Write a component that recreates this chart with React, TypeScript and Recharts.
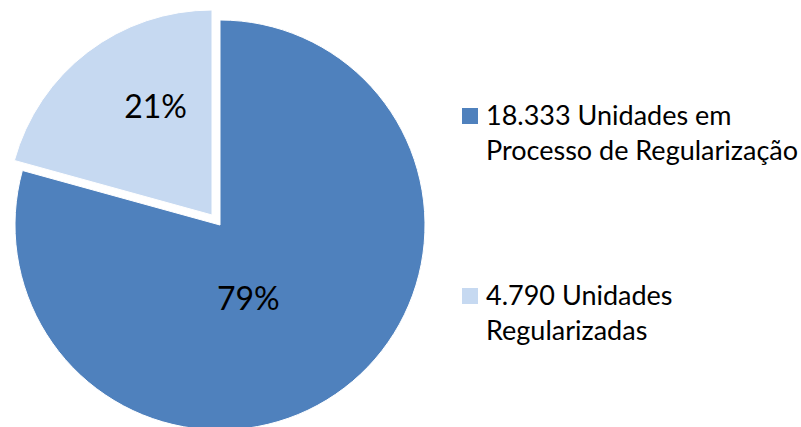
import React from "react";
import { PieChart, Pie, Cell, Legend } from "recharts";

const categories = ["Unidades em Processo de Regularização", "Unidades Regularizadas"];
const values = [18333, 4790];
const legendLines = [
  ["18.333 Unidades em", "Processo de Regularização"],
  ["4.790 Unidades", "Regularizadas"],
];
const colors = ["#4F81BD", "#C6D9F1"];

const data = categories.map((name, i) => ({ name, value: values[i] }));

const FONT = "Lato, 'Open Sans', sans-serif";
const RAD = Math.PI / 180;

const makeLabel = (which: number) => (props: any) => {
  const { cx, cy, midAngle, outerRadius, percent, index } = props;
  if (index !== which) return null;
  const k = index === 0 ? 0.38 : 0.6;
  const adj = index === 0 ? -16 : -10;
  const a = (midAngle + adj) * RAD;
  const x = cx + Math.cos(a) * outerRadius * k;
  const y = cy - Math.sin(a) * outerRadius * k;
  return (
    <text x={x} y={y} textAnchor="middle" dominantBaseline="central" fontFamily={FONT} fontSize={32} fill="#000">
      {Math.round(percent * 100)}%
    </text>
  );
};

const LegendContent = () => (
  <svg width={350} height={280} style={{ display: "block" }}>
    {legendLines.map((lines, i) => {
      const top = i === 0 ? 18 : 198;
      return (
        <g key={i}>
          <rect x={12} y={top} width={16} height={16} fill={colors[i]} />
          <text x={36} y={top + 17} fontFamily={FONT} fontSize={27} fill="#000">
            {lines[0]}
          </text>
          <text x={36} y={top + 52} fontFamily={FONT} fontSize={27} fill="#000">
            {lines[1]}
          </text>
        </g>
      );
    })}
  </svg>
);

export default function App() {
  return (
    <div style={{ position: "relative", width: 801, height: 427 }}>
      <style>{"body{margin:0;background:#fff}"}</style>
      <PieChart width={801} height={427} margin={{ top: 0, right: 0, bottom: 0, left: 0 }}>
        <Pie
          data={data}
          dataKey="value"
          nameKey="name"
          cx={220}
          cy={225}
          outerRadius={205}
          startAngle={90}
          endAngle={-270}
          stroke="#fff"
          strokeWidth={1}
          isAnimationActive={false}
          label={makeLabel(0)}
          labelLine={false}
        >
          {data.map((d, i) => (
            <Cell key={d.name} fill={i === 0 ? colors[0] : "none"} stroke={i === 0 ? "#fff" : "none"} />
          ))}
        </Pie>
        <Pie
          data={data}
          dataKey="value"
          nameKey="name"
          cx={212}
          cy={215}
          outerRadius={205}
          startAngle={90}
          endAngle={-270}
          stroke="#fff"
          strokeWidth={1}
          isAnimationActive={false}
          label={makeLabel(1)}
          labelLine={false}
        >
          {data.map((d, i) => (
            <Cell key={d.name} fill={i === 1 ? colors[1] : "none"} stroke={i === 1 ? "#fff" : "none"} />
          ))}
        </Pie>
        <Legend
          content={<LegendContent />}
          wrapperStyle={{ position: "absolute", left: 450, top: 90, width: 350, height: 280 }}
        />
      </PieChart>
    </div>
  );
}
